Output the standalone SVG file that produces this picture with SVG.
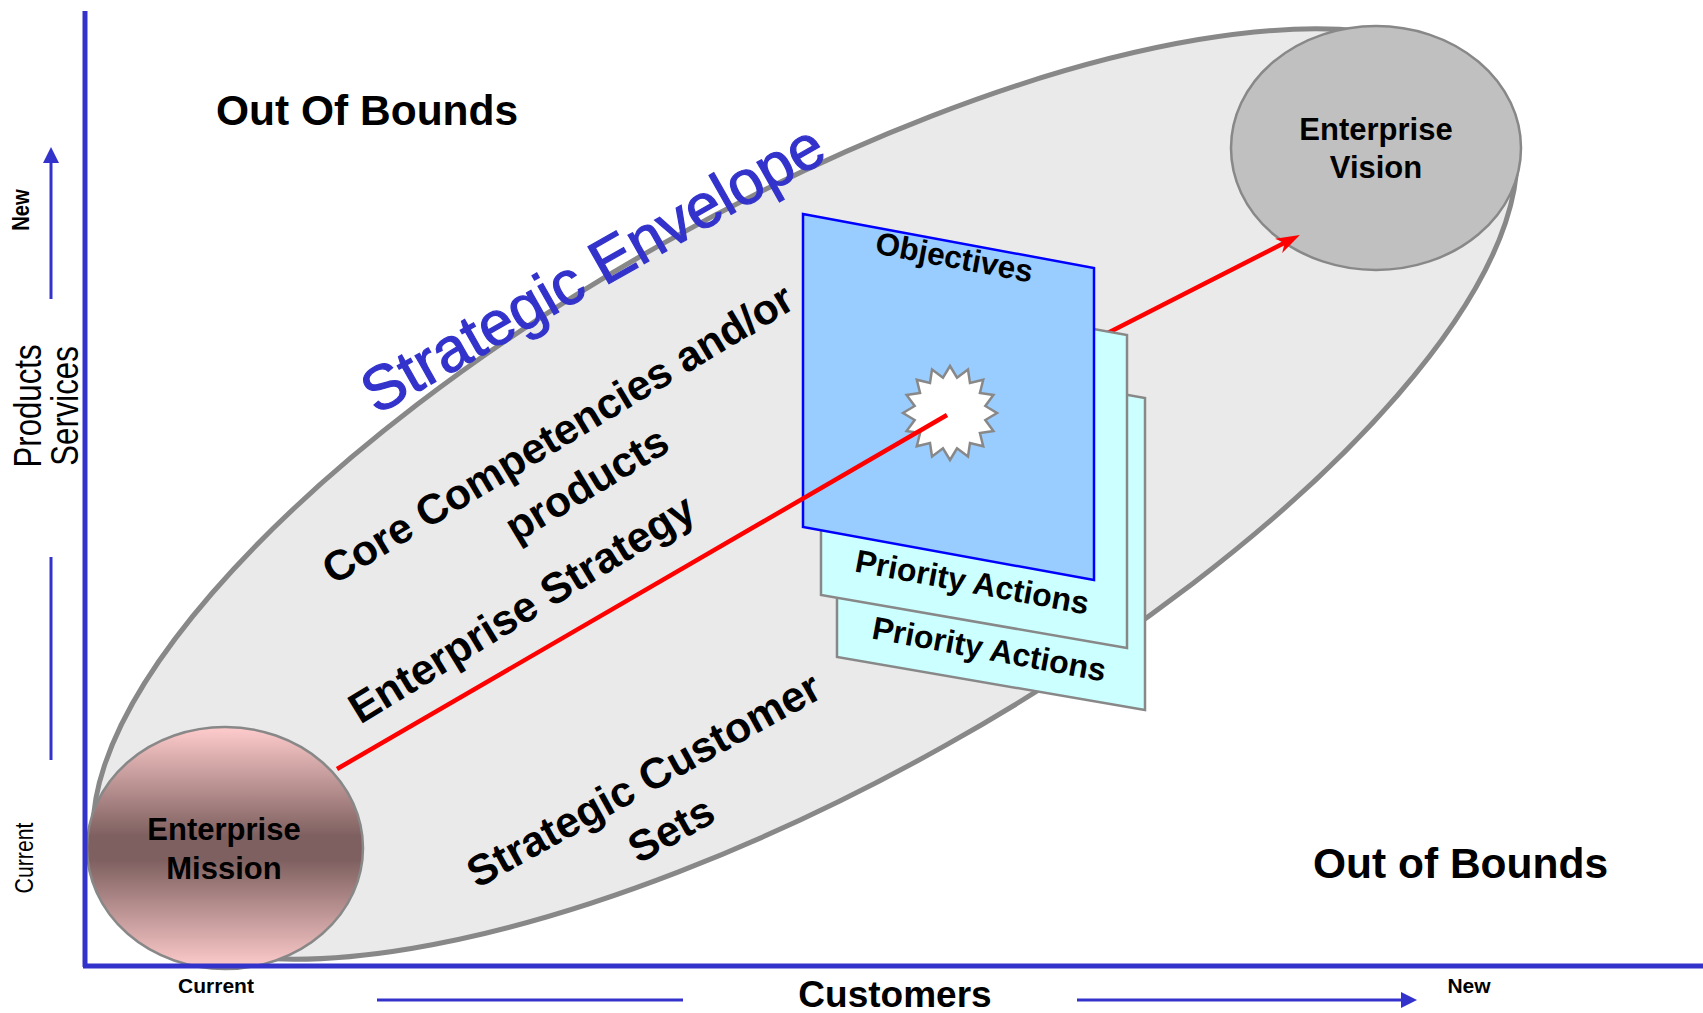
<svg xmlns="http://www.w3.org/2000/svg" width="1703" height="1013" viewBox="0 0 1703 1013">
<defs>
<style>
.b{font-family:"Liberation Sans",Arial,Helvetica,sans-serif;font-weight:bold;fill:#000}
.r{font-family:"Liberation Sans",Arial,Helvetica,sans-serif;font-weight:normal;fill:#000}
.env{font-family:"Liberation Sans",Arial,Helvetica,sans-serif;font-weight:normal;fill:#3333cc;stroke:#3333cc;stroke-width:1.2}
.ax{stroke:#3333cc;fill:none}
.red{stroke:#ff0000;stroke-width:4.5;fill:none}
.card{fill:#ccffff;stroke:#888888;stroke-width:2.5}
</style>
<linearGradient id="gMission" x1="0" y1="0" x2="0" y2="1">
<stop offset="0" stop-color="#ffcccc"/>
<stop offset="0.45" stop-color="#7f6060"/>
<stop offset="0.55" stop-color="#7f6060"/>
<stop offset="1" stop-color="#ffcccc"/>
</linearGradient>
<marker id="arr" viewBox="0 0 24 16" refX="14" refY="8" markerWidth="24" markerHeight="16" markerUnits="userSpaceOnUse" orient="auto">
<path d="M0,0 L24,8 L0,16 L7,8 z" fill="#ff0000"/>
</marker>
<marker id="axArr" viewBox="0 0 16 16" refX="4" refY="8" markerWidth="16" markerHeight="16" markerUnits="userSpaceOnUse" orient="auto">
<path d="M0,0 L16,8 L0,16 z" fill="#3333cc"/>
</marker>
</defs>
<rect width="1703" height="1013" fill="#ffffff"/>

<g id="envelope">
<ellipse cx="805" cy="494" rx="800" ry="288" transform="rotate(-29.3 805 494)" fill="#eaeaea" stroke="#888888" stroke-width="5"/>
</g>

<g id="mission">
<ellipse cx="225" cy="848" rx="138" ry="121" fill="url(#gMission)" stroke="#888888" stroke-width="2.5"/>
<text class="b" x="224" y="840" font-size="31" text-anchor="middle">Enterprise</text>
<text class="b" x="224" y="879" font-size="31" text-anchor="middle">Mission</text>
</g>

<g id="vision">
<ellipse cx="1376" cy="148" rx="145" ry="122" fill="#c0c0c0" stroke="#888888" stroke-width="2.5"/>
<text class="b" x="1376" y="140" font-size="31" text-anchor="middle">Enterprise</text>
<text class="b" x="1376" y="178" font-size="31" text-anchor="middle">Vision</text>
</g>

<g id="connectors-back">
<line class="red" x1="947" y1="415" x2="1291" y2="239.5" marker-end="url(#arr)"/>
</g>

<g id="priority2">
<polygon class="card" points="837,343 1145,398 1145,710 837,657"/>
<text class="b" font-size="32" text-anchor="middle" transform="translate(989,650) rotate(10.5)" y="10">Priority Actions</text>
</g>

<g id="priority1">
<polygon class="card" points="821,280 1127,335 1127,648 821,595"/>
<text class="b" font-size="32" text-anchor="middle" transform="translate(972,583) rotate(10.5)" y="10">Priority Actions</text>
</g>

<g id="objectives">
<polygon points="803,214 1094,268 1094,580 803,527" fill="#99ccff" stroke="#0000ff" stroke-width="2.5"/>
<text class="b" font-size="31.5" text-anchor="middle" transform="translate(954,259) rotate(10.5)" y="9">Objectives</text>
</g>

<g id="goal">
<polygon points="950,366 957.02,377.69 967.99,369.58 970,383.07 983.23,379.77 979.93,393 993.42,395.01 985.31,405.98 997,413 985.31,420.02 993.42,430.99 979.93,433 983.23,446.23 970,442.93 967.99,456.42 957.02,448.31 950,460 942.98,448.31 932.01,456.42 930,442.93 916.77,446.23 920.07,433 906.58,430.99 914.69,420.02 903,413 914.69,405.98 906.58,395.01 920.07,393 916.77,379.77 930,383.07 932.01,369.58 942.98,377.69" fill="#ffffff" stroke="#888888" stroke-width="2.5"/>
</g>

<g id="connectors">
<line class="red" x1="337" y1="769" x2="947" y2="415"/>
</g>

<g id="labels">
<text class="env" font-size="62" text-anchor="middle" transform="translate(603,287) rotate(-29.5)">Strategic Envelope</text>
<text class="b" font-size="42.5" text-anchor="middle" transform="translate(559,436) rotate(-31)" y="12">Core Competencies and/or</text>
<text class="b" font-size="42.5" text-anchor="middle" transform="translate(588,486) rotate(-31)" y="12">products</text>
<text class="b" font-size="43" text-anchor="middle" transform="translate(523,611) rotate(-31.5)" y="12">Enterprise Strategy</text>
<text class="b" font-size="43" text-anchor="middle" transform="translate(645,782) rotate(-29)" y="12">Strategic Customer</text>
<text class="b" font-size="43" text-anchor="middle" transform="translate(671,829) rotate(-29)" y="15">Sets</text>
<text class="b" font-size="42.5" x="216" y="125">Out Of Bounds</text>
<text class="b" font-size="42.5" x="1313" y="878">Out of Bounds</text>
</g>

<g id="axes">
<line class="ax" x1="85" y1="11" x2="85" y2="967" stroke-width="5"/>
<line class="ax" x1="83" y1="966" x2="1703" y2="966" stroke-width="5"/>
<line class="ax" x1="51" y1="299" x2="51" y2="159" stroke-width="3" marker-end="url(#axArr)"/>
<line class="ax" x1="51" y1="557" x2="51" y2="760" stroke-width="3"/>
<line class="ax" x1="377" y1="1000" x2="683" y2="1000" stroke-width="3"/>
<line class="ax" x1="1077" y1="1000" x2="1405" y2="1000" stroke-width="3" marker-end="url(#axArr)"/>
<text class="b" font-size="23" text-anchor="middle" transform="translate(29,210) rotate(-90) scale(0.88,1)">New</text>
<text class="r" font-size="38" text-anchor="middle" transform="translate(41,406) rotate(-90) scale(0.82,1)">Products</text>
<text class="r" font-size="38" text-anchor="middle" transform="translate(78,406) rotate(-90) scale(0.82,1)">Services</text>
<text class="r" font-size="25" text-anchor="middle" transform="translate(33,858) rotate(-90) scale(0.85,1)">Current</text>
<text class="b" font-size="21" x="216" y="993" text-anchor="middle">Current</text>
<text class="b" font-size="37" x="895" y="1007" text-anchor="middle">Customers</text>
<text class="b" font-size="21" x="1469" y="993" text-anchor="middle">New</text>
</g>
</svg>
